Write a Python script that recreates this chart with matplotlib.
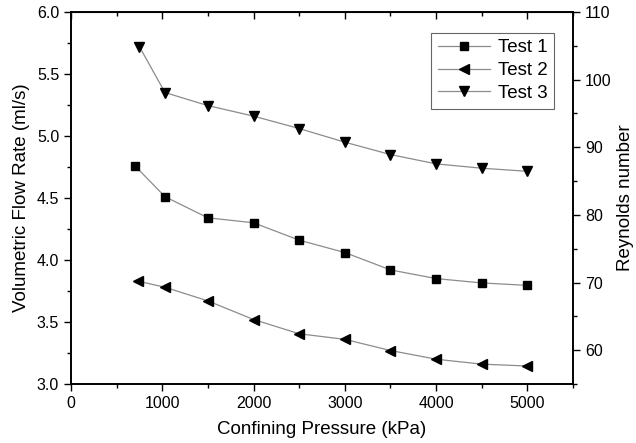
import matplotlib
matplotlib.use('Agg')
import matplotlib.pyplot as plt
from matplotlib.ticker import MultipleLocator

plt.rcParams['font.family'] = ['Liberation Sans', 'DejaVu Sans']

# confining pressure (kPa) and flow rate (ml/s) for each test
p_test1 = [700, 1030, 1500, 2000, 2500, 3000, 3500, 4000, 4500, 5000]
q_test1 = [4.76, 4.51, 4.34, 4.30, 4.16, 4.06, 3.92, 3.85, 3.815, 3.795]

p_test2 = [730, 1030, 1500, 2000, 2500, 3000, 3500, 4000, 4500, 5000]
q_test2 = [3.83, 3.78, 3.67, 3.52, 3.405, 3.36, 3.27, 3.20, 3.16, 3.145]

p_test3 = [750, 1030, 1500, 2000, 2500, 3000, 3500, 4000, 4500, 5000]
q_test3 = [5.72, 5.35, 5.245, 5.16, 5.06, 4.95, 4.85, 4.775, 4.74, 4.715]

# Reynolds number axis range
re_min, re_max = 55, 110

fig = plt.figure(figsize=(6.36, 4.43), dpi=100)
ax = fig.add_axes([0.1116, 0.1332, 0.7894, 0.8398])

line_kw = dict(color='#8c8c8c', linewidth=0.9, markerfacecolor='black',
               markeredgecolor='black')
ax.plot(p_test1, q_test1, marker='s', markersize=5.3, label='Test 1', **line_kw)
ax.plot(p_test2, q_test2, marker='<', markersize=7, label='Test 2', **line_kw)
ax.plot(p_test3, q_test3, marker='v', markersize=7.5, label='Test 3', **line_kw)

ax.xaxis.set_minor_locator(MultipleLocator(500))
ax.yaxis.set_major_locator(MultipleLocator(0.5))
ax.yaxis.set_minor_locator(MultipleLocator(0.25))
ax.set_xticks([0, 1000, 2000, 3000, 4000, 5000])
ax.set_xlim(0, 5500)
ax.set_ylim(3.0, 6.0)
ax.tick_params(which='both', direction='out', labelsize=11.5, width=1)
ax.tick_params(which='major', length=5)
ax.tick_params(which='minor', length=3)
ax.yaxis.set_major_formatter(matplotlib.ticker.FormatStrFormatter('%.1f'))

ax.set_xlabel('Confining Pressure (kPa)', fontsize=13.5, labelpad=7)
ax.set_ylabel('Volumetric Flow Rate (ml/s)', fontsize=13.5, labelpad=5)

top = ax.secondary_xaxis('top')
top.xaxis.set_major_locator(MultipleLocator(1000))
top.xaxis.set_minor_locator(MultipleLocator(500))
top.tick_params(which='both', direction='in', labeltop=False, width=1)
top.tick_params(which='major', length=5)
top.tick_params(which='minor', length=3)

ax2 = ax.twinx()
ax2.yaxis.set_minor_locator(MultipleLocator(5))
ax2.set_yticks([60, 70, 80, 90, 100, 110])
ax2.set_ylim(re_min, re_max)
ax2.tick_params(which='both', direction='out', labelsize=11.5, width=1)
ax2.tick_params(which='major', length=5)
ax2.tick_params(which='minor', length=3)
ax2.set_ylabel('Reynolds number', fontsize=13.5, labelpad=4)

for a in (ax, ax2):
    for s in a.spines.values():
        s.set_linewidth(1.2)

leg = ax.legend(loc='upper right', bbox_to_anchor=(0.962, 0.944), fontsize=13.5,
                fancybox=False, edgecolor='#666666', framealpha=1,
                handlelength=2.8, borderpad=0.35, labelspacing=0.3,
                handletextpad=0.4, borderaxespad=0)
leg.get_frame().set_linewidth(0.8)

fig.savefig('out.png', dpi=100)
